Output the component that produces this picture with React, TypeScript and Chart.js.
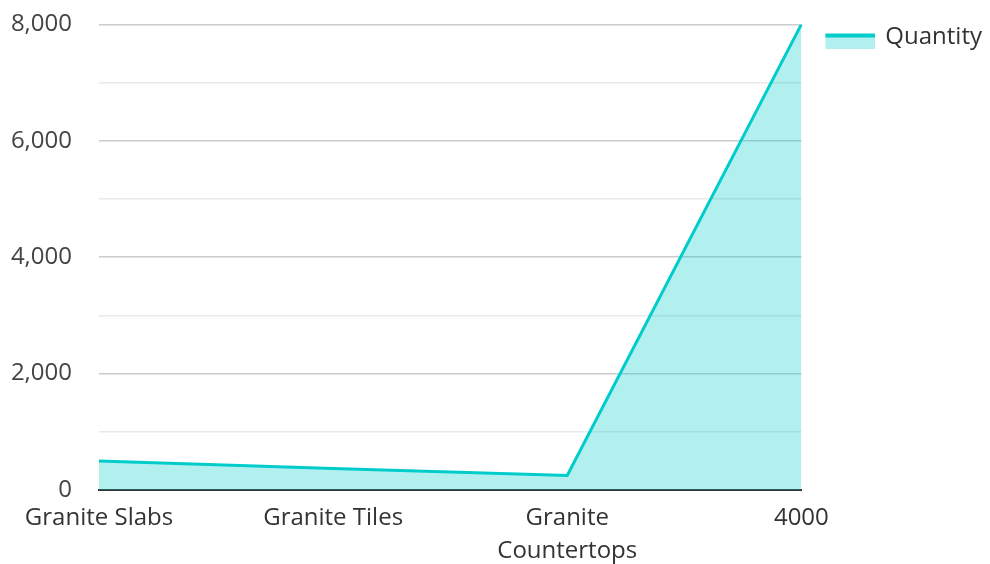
import React, { useEffect, useRef } from "react";
import { Chart, registerables } from "chart.js";

Chart.register(...registerables);

const categories: (string | string[])[] = ["Granite Slabs", "Granite Tiles", ["Granite", "Countertops"], "4000"];
const quantity: number[] = [500, 370, 250, 8000];
const seriesLabel = "Quantity";

const LINE = "#00cccc";
const FILL = "rgba(0, 204, 204, 0.3)";
const FONT = "'Open Sans', 'Noto Sans', sans-serif";
const FONT_SIZE = 24;

function legendSwatch(): HTMLCanvasElement {
  const c = document.createElement("canvas");
  c.width = 68;
  c.height = 23;
  const ctx = c.getContext("2d")!;
  ctx.fillStyle = FILL;
  ctx.fillRect(18, 12, 50, 11);
  ctx.fillStyle = LINE;
  ctx.fillRect(18, 8, 50, 4);
  return c;
}

export default function App() {
  const ref = useRef<HTMLCanvasElement>(null);
  useEffect(() => {
    const swatch = legendSwatch();
    const chart = new Chart(ref.current!, {
      type: "line",
      data: {
        labels: categories,
        datasets: [
          {
            label: seriesLabel,
            data: quantity,
            borderColor: LINE,
            backgroundColor: FILL,
            borderWidth: 3,
            fill: "origin",
            pointRadius: 0,
            pointHoverRadius: 0,
            tension: 0,
            pointStyle: swatch as any,
          },
        ],
      },
      options: {
        animation: false,
        responsive: true,
        maintainAspectRatio: false,
        layout: { padding: { top: 17, left: 0, right: -2, bottom: 0 } },
        plugins: {
          tooltip: { enabled: false },
          legend: {
            position: "right",
            align: "start",
            labels: {
              usePointStyle: true,
              pointStyleWidth: 64,
              font: { family: FONT, size: FONT_SIZE },
              color: "#333",
              padding: 8,
            },
          },
        },
        scales: {
          x: {
            offset: false,
            grid: { display: false, drawTicks: false },
            border: { display: true, color: "#333", width: 2 },
            ticks: {
              font: { family: FONT, size: FONT_SIZE, lineHeight: 1.375 },
              color: "#333",
              maxRotation: 0,
              autoSkip: false,
              padding: 12,
            },
            afterFit: (s: any) => {
              s.height = 74;
            },
          },
          y: {
            min: 0,
            max: 8000,
            grid: {
              drawTicks: true,
              tickLength: 17,
              tickColor: "rgba(0,0,0,0)",
              color: (ctx: any) => (ctx.tick && ctx.tick.value % 2000 === 0 ? "#cccccc" : "#eaeaea"),
              lineWidth: 1.5,
            },
            border: { display: false },
            ticks: {
              stepSize: 1000,
              font: { family: FONT, size: FONT_SIZE },
              color: "#444",
              padding: 10,
              callback: (v: any) => (Number(v) % 2000 === 0 ? Number(v).toLocaleString("en-US") : ""),
            },
            afterFit: (s: any) => {
              s.width = 99;
            },
          },
        },
      },
    });
    return () => chart.destroy();
  }, []);
  return (
    <div style={{ position: "fixed", left: 0, top: 0, width: 990, height: 564, background: "#fff" }}>
      <canvas ref={ref} />
    </div>
  );
}
